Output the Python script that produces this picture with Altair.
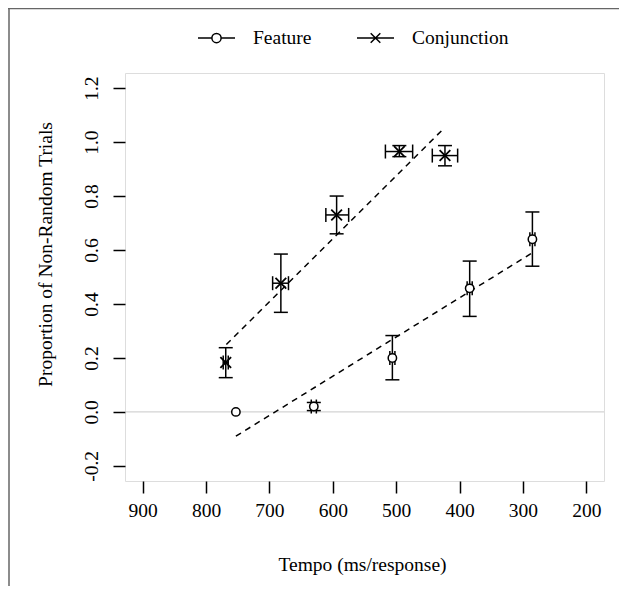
import altair as alt
import pandas as pd

series_names = ["Feature", "Conjunction"]

feat_tempo = [753, 630, 506, 384, 285]
feat_prop = [0.00, 0.02, 0.20, 0.458, 0.64]
feat_prop_lo = [0.00, 0.005, 0.119, 0.354, 0.54]
feat_prop_hi = [0.00, 0.035, 0.283, 0.559, 0.741]
feat_tempo_lo = [753, 626, 502, 380, 281]
feat_tempo_hi = [753, 634, 510, 388, 289]

conj_tempo = [769, 682, 594, 495, 423]
conj_prop = [0.183, 0.477, 0.730, 0.965, 0.950]
conj_prop_lo = [0.127, 0.369, 0.660, 0.946, 0.912]
conj_prop_hi = [0.238, 0.585, 0.800, 0.987, 0.987]
conj_tempo_lo = [765, 670, 575, 474, 403]
conj_tempo_hi = [773, 695, 611, 517, 443]

feat_fit_tempo = [753, 285]
feat_fit_prop = [-0.09, 0.59]
conj_fit_tempo = [768, 425]
conj_fit_prop = [0.25, 1.05]

x_ticks = [900, 800, 700, 600, 500, 400, 300, 200]
y_ticks = [-0.2, 0.0, 0.2, 0.4, 0.6, 0.8, 1.0, 1.2]

FONT = "Liberation Serif"
FS = 19.5

pts = pd.DataFrame({
    "series": ["Feature"] * 5 + ["Conjunction"] * 5,
    "tempo": feat_tempo + conj_tempo,
    "prop": feat_prop + conj_prop,
    "plo": feat_prop_lo + conj_prop_lo,
    "phi": feat_prop_hi + conj_prop_hi,
    "tlo": feat_tempo_lo + conj_tempo_lo,
    "thi": feat_tempo_hi + conj_tempo_hi,
})
fits = pd.DataFrame({
    "series": ["Feature"] * 2 + ["Conjunction"] * 2,
    "tempo": feat_fit_tempo + conj_fit_tempo,
    "prop": feat_fit_prop + conj_fit_prop,
})
zero = pd.DataFrame({"prop": [0.0]})

xscale = alt.Scale(domain=[172, 928], reverse=True, nice=False, zero=False)
yscale = alt.Scale(domain=[-0.256, 1.256], nice=False, zero=False)

xaxis = alt.Axis(
    values=x_ticks, format="d", title="Tempo (ms/response)",
    labelFont=FONT, labelFontSize=FS, labelColor="black", labelPadding=8,
    labelFlush=False, labelOverlap=False,
    tickColor="black", tickSize=12, tickWidth=1.5, domain=False, grid=False,
    titleFont=FONT, titleFontSize=FS, titleFontWeight="normal", titleColor="black",
    titleX=237, titleY=89, titleBaseline="alphabetic", titleAlign="center",
)
yaxis = alt.Axis(
    values=y_ticks, title="Proportion of Non-Random Trials",
    labelExpr="datum.value < 0 ? '-' + format(-datum.value, '.1f') : format(datum.value, '.1f')",
    labelFont=FONT, labelFontSize=FS, labelColor="black", labelAngle=270,
    labelAlign="center", labelBaseline="middle", labelPadding=22,
    labelFlush=False, labelOverlap=False,
    tickColor="black", tickSize=12, tickWidth=1.5, domain=False, grid=False,
    titleFont=FONT, titleFontSize=FS, titleFontWeight="normal", titleColor="black",
    titleAngle=270, titleX=-80, titleY=181, titleBaseline="middle", titleAlign="center",
)


def X(f):
    return alt.X(f, type="quantitative", scale=xscale, axis=xaxis)


def Y(f):
    return alt.Y(f, type="quantitative", scale=yscale, axis=yaxis)


zero_line = alt.Chart(zero).mark_rule(color="#c8c8c8", strokeWidth=1).encode(y=Y("prop"))

fit_lines = alt.Chart(fits).mark_line(
    color="black", strokeDash=[6, 5], strokeWidth=1.5
).encode(x=X("tempo"), y=Y("prop"), detail="series:N")

base = alt.Chart(pts)
yerr = base.transform_filter("datum.phi > datum.plo")
xerr = base.transform_filter("datum.thi > datum.tlo")

y_rules = yerr.mark_rule(color="black", strokeWidth=1.5).encode(
    x=X("tempo"), y=Y("plo"), y2="phi")
y_cap_lo = yerr.mark_tick(orient="horizontal", size=14, thickness=1.5, color="black", opacity=1).encode(
    x=X("tempo"), y=Y("plo"))
y_cap_hi = yerr.mark_tick(orient="horizontal", size=14, thickness=1.5, color="black", opacity=1).encode(
    x=X("tempo"), y=Y("phi"))

x_rules = xerr.mark_rule(color="black", strokeWidth=1.5).encode(
    x=X("tlo"), x2="thi", y=Y("prop"))
x_cap_lo = xerr.mark_tick(orient="vertical", size=14, thickness=1.5, color="black", opacity=1).encode(
    x=X("tlo"), y=Y("prop"))
x_cap_hi = xerr.mark_tick(orient="vertical", size=14, thickness=1.5, color="black", opacity=1).encode(
    x=X("thi"), y=Y("prop"))

feat_pts = base.transform_filter("datum.series == 'Feature'").mark_point(
    shape="circle", filled=True, fill="white", stroke="black", strokeWidth=1.5,
    size=70, opacity=1, fillOpacity=1
).encode(x=X("tempo"), y=Y("prop"))

conj_pts = base.transform_filter("datum.series == 'Conjunction'").mark_point(
    shape="M-1,-1L1,1M-1,1L1,-1", filled=False, stroke="black", strokeWidth=1.8,
    size=115, opacity=1
).encode(x=X("tempo"), y=Y("prop"))

feat_sym = "M-1,0L-0.25,0M0.25,0L1,0M-0.25,0A0.25,0.25,0,1,0,0.25,0A0.25,0.25,0,1,0,-0.25,0"
conj_sym = "M-1,0L1,0M-0.26,-0.26L0.26,0.26M-0.26,0.26L0.26,-0.26"

legend_layer = base.transform_filter("false").mark_point(
    filled=False, color="black", strokeWidth=1.5, opacity=1
).encode(
    x=X("tempo"), y=Y("prop"),
    shape=alt.Shape("series:N", scale=alt.Scale(domain=series_names, range=[feat_sym, conj_sym]),
                    legend=alt.Legend(
                        title=None, orient="none", direction="horizontal",
                        legendX=72, legendY=-54.5, padding=0,
                        symbolSize=1369, symbolStrokeWidth=1.5, symbolStrokeColor="black",
                        symbolFillColor="white", symbolOpacity=1,
                        labelFont=FONT, labelFontSize=FS, labelColor="black",
                        labelOffset=17, columnPadding=42,
                    )),
)

frame_v = alt.Chart(zero).mark_rule(color="#666666", strokeWidth=1.5).encode(
    x=alt.value(-116), y=alt.value(-65), y2=alt.value(513))
frame_h = alt.Chart(zero).mark_rule(color="#666666", strokeWidth=1.5).encode(
    x=alt.value(-117), x2=alt.value(494), y=alt.value(-64.5))

chart = alt.layer(
    zero_line, fit_lines, y_rules, y_cap_lo, y_cap_hi, x_rules, x_cap_lo, x_cap_hi,
    feat_pts, conj_pts, legend_layer, frame_v, frame_h
).properties(
    width=479, height=408,
    padding={"left": 117, "top": 65, "right": 15, "bottom": 105},
    autosize=alt.AutoSizeParams(type="none"),
).configure_view(
    stroke="black", strokeWidth=1.5
).configure_axis(
    labelFont=FONT, titleFont=FONT
).configure_legend(
    labelFont=FONT
).configure(background="white", font=FONT)

chart.save("out.html", embed_options={"renderer": "svg", "actions": False})
